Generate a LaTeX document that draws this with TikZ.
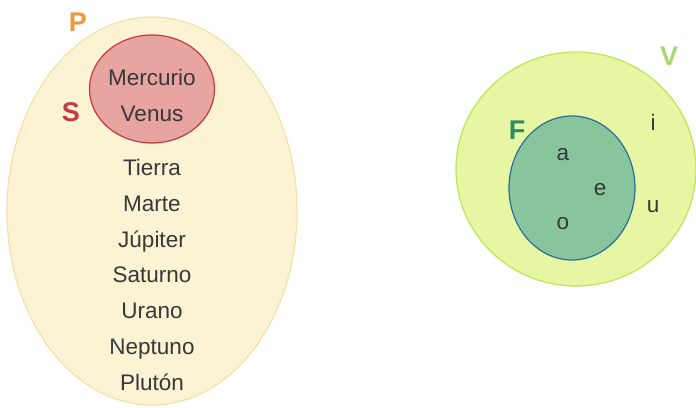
\documentclass[tikz,border=0pt]{standalone}
\usepackage{fontspec}
\setmainfont{Liberation Sans}
\usetikzlibrary{shapes.geometric}
\definecolor{pfill}{HTML}{FCF3D4}
\definecolor{pline}{HTML}{F3E1A6}
\definecolor{plabel}{HTML}{EB973A}
\definecolor{sfill}{HTML}{E8A4A0}
\definecolor{sline}{HTML}{C23A42}
\definecolor{vfill}{HTML}{E6F6A2}
\definecolor{vline}{HTML}{C0E356}
\definecolor{vlabel}{HTML}{A6D873}
\definecolor{ffill}{HTML}{88C59D}
\definecolor{fline}{HTML}{2C6C9C}
\definecolor{flabel}{HTML}{2B8C6C}
\definecolor{ink}{HTML}{383838}
\tikzset{
	conj/.style={ellipse, draw, line width=1.2pt, inner sep=0pt},
	elem/.style={text=ink, font=\fontsize{22.5}{22.5}\selectfont, text height=16pt, text depth=0pt},
	nombre/.style={font=\fontsize{27}{27}\selectfont\bfseries}
}

\begin{document}
\begin{tikzpicture}[x=1pt, y=-1pt]
\useasboundingbox (0,0) rectangle (696,407);
% planetas
\node (P) at (152,211) [conj, draw=pline, fill=pfill, minimum width=290, minimum height=388] {};
\node (S) at (152,89) [conj, draw=sline, fill=sfill, minimum width=125, minimum height=108] {};
\node (Plabel) at (78,22) [nombre, text=plabel] {P};
\node (Slabel) at (71,112) [nombre, text=sline] {S};
\foreach \name / \y / \txt in {me/77/Mercurio, ve/113/Venus, ti/167/Tierra,
	ma/203/Marte, ju/239/Júpiter, sa/274/Saturno,
	ur/310/Urano, ne/346/Neptuno, pl/382/Plutón}
	\node (\name) at (152,\y) [elem] {\txt};

% vocales
\node (V) at (576,169) [conj, draw=vline, fill=vfill, minimum width=240, minimum height=234] {};
\node (F) at (572,188) [conj, draw=fline, fill=ffill, minimum width=126, minimum height=144] {};
\node (Vlabel) at (669,56) [nombre, text=vlabel] {V};
\node (Flabel) at (517,130) [nombre, text=flabel] {F};
\foreach \name / \x / \y in {a/563/152, e/600/187, o/563/221, i/653/122, u/653/204}
	\node (\name) at (\x,\y) [elem] {\name};
\end{tikzpicture}
\end{document}
